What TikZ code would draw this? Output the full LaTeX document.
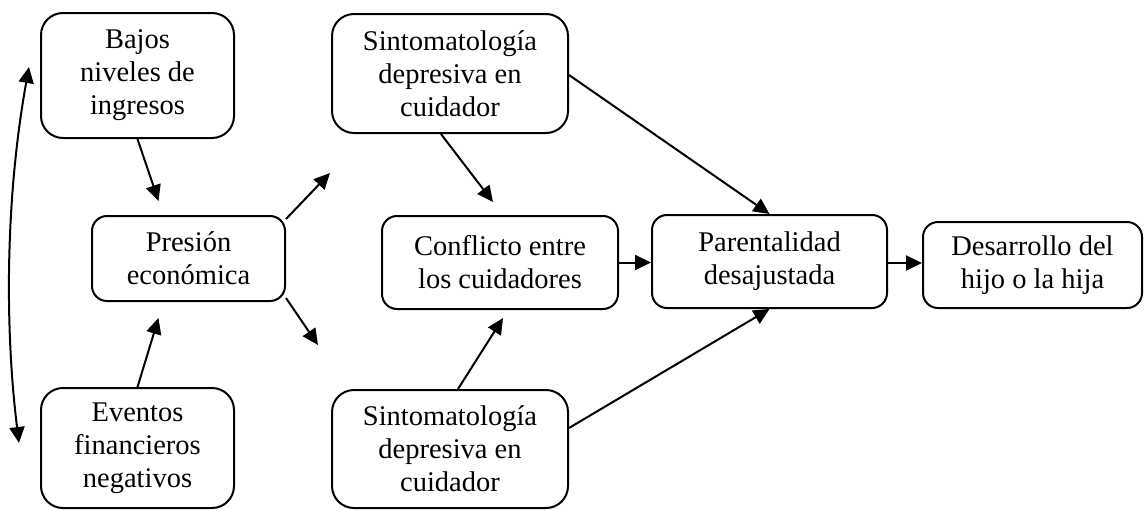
\documentclass[tikz,border=0pt]{standalone}
\usepackage{fontspec}
\setmainfont{Liberation Serif}
\usetikzlibrary{arrows.meta,calc}
\begin{document}
\begin{tikzpicture}[x=1pt,y=-1pt,
  box/.style={draw,line width=2pt,rounded corners=22pt,align=center,inner sep=0pt,
    font=\fontsize{28.5}{33}\selectfont},
  smallbox/.style={box,rounded corners=15pt},
  arr/.style={line width=2pt,-{Triangle[length=16pt,width=15pt]}},
  darr/.style={line width=2pt,{Triangle[length=16pt,width=15pt]}-{Triangle[length=16pt,width=15pt]}}]
\useasboundingbox[fill=white] (0,0) rectangle (1145,509);
\node[box,minimum width=193pt,minimum height=125pt] (bajos) at (137.5,75.5) {Bajos\\niveles de\\ingresos};
\node[smallbox,minimum width=193pt,minimum height=85pt] (pres) at (188.5,258.5) {Presión\\económica};
\node[box,minimum width=193pt,minimum height=120pt] (eventos) at (137.5,448) {Eventos\\financieros\\negativos};
\node[box,minimum width=236pt,minimum height=119pt] (sintTop) at (450,73.5) {Sintomatología\\depresiva en\\cuidador};
\node[smallbox,minimum width=236pt,minimum height=93pt] (conf) at (500,262.5) {Conflicto entre\\los cuidadores};
\node[box,minimum width=236pt,minimum height=118pt] (sintBot) at (450,449) {Sintomatología\\depresiva en\\cuidador};
\node[smallbox,minimum width=235pt,minimum height=93pt] (par) at (769.5,261.5) {Parentalidad\\desajustada};
\node[smallbox,minimum width=219pt,minimum height=86pt] (des) at (1032.5,265) {Desarrollo del\\hijo o la hija};
% free ends
\coordinate (upfree) at (330,173);
\coordinate (downfree) at (318,345);
\coordinate (ctop) at ([xshift=-11pt,yshift=8.5pt]bajos.west);
\coordinate (cbot) at ([xshift=-21pt,yshift=5pt]eventos.west);
% connectors
\draw[darr] (cbot) .. controls (5,330) and (5,200) .. (ctop);
\draw[arr] (bajos.south) -- ([xshift=-30pt,yshift=14pt]pres.north);
\draw[arr] (eventos.north) -- ([xshift=-30pt,yshift=-16pt]pres.south);
\draw[arr] ([yshift=-4pt]pres.north east) -- (upfree);
\draw[arr] ([yshift=4pt]pres.south east) -- (downfree);
\draw[arr] ([xshift=-9pt]sintTop.south) -- ([xshift=-7pt,yshift=13pt]conf.north);
\draw[arr] ([xshift=8pt]sintBot.north) -- ([xshift=3pt,yshift=-8pt]conf.south);
\draw[arr] ([yshift=-1.5pt]sintTop.east) -- (par.north);
\draw[arr] ([yshift=21pt]sintBot.east) -- (par.south);
\draw[arr] (conf.east) -- (conf.east -| par.west);
\draw[arr] ([yshift=-1.5pt]par.east) -- ([yshift=-1.5pt]par.east -| des.west);
\end{tikzpicture}
\end{document}
